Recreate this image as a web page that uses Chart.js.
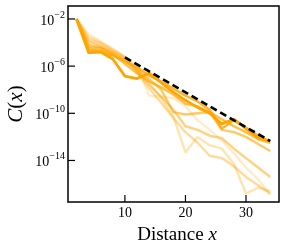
<!DOCTYPE html>
<html>
<head>
<meta charset="utf-8">
<script src="https://cdn.jsdelivr.net/npm/chart.js@4.4.1/dist/chart.umd.min.js"></script>
<style>
  html, body { margin: 0; padding: 0; background: #fff; }
  #wrap { width: 287px; height: 242px; position: relative; }
</style>
</head>
<body>
<div id="wrap"><canvas id="chart"></canvas></div>
<script>
// distance x (even sites)
const distances = [2, 4, 6, 8, 10, 12, 14, 16, 18, 20, 22, 24, 26, 28, 30, 32, 34];

// log10 C(x), darkest curve first
const logC1 = [-2, -4.85, -4.8, -5.4, -6.85, -7.05, -6.6, -7.4, -8.2, -8.9, -9.5, -10.0, -10.9, -10.5, -11.3, -12.1, -12.35];
const logC2 = [-2, -4.6, -4.7, -5.1, -5.6, -6.1, -6.8, -7.3, -7.9, -8.5, -9.0, -9.7, -11.3, -10.6, -11.2, -11.9, -12.4];
const logC3 = [-2, -4.4, -4.5, -5.0, -5.8, -6.6, -7.3, -7.8, -8.4, -9.2, -9.4, -9.9, -10.5, -11.1, -11.6, -12.2, -12.5];
const logC4 = [-2, -4.2, -4.4, -4.9, -5.5, -6.3, -7.1, -8.0, -9.9, -10.1, -10.0, -9.9, -11.4, -11.6, -12.0, -12.6, -13.2];
const logC5 = [-2, -3.9, -4.3, -4.8, -5.4, -6.4, -7.6, -8.6, -9.7, -11.1, -11.4, -11.9, -12.1, -13.0, -13.8, -14.6, -15.4];
const logC6 = [-2, -3.7, -4.1, -4.7, -5.3, -6.5, -7.9, -9.1, -10.4, -11.6, -12.5, -13.6, -13.8, -14.5, -15.4, -16.1, -16.8];
const logC7 = [-2, -3.5, -4.0, -4.6, -5.2, -6.2, -7.4, -8.7, -10.3, -13.3, -12.0, -12.7, -13.0, -14.3, -16.8, -16.3, -16.6];
const logC8 = [-2, -3.3, -3.9, -4.5, -5.2, -6.0, -8.5, -8.6, -8.7, -9.4, -10.6, -11.4, -12.3, -13.4, -14.6, -15.6, -16.9];
const curves = [logC1, logC2, logC3, logC4, logC5, logC6, logC7, logC8];
const alphas = [1.0, 0.85, 0.72, 0.6, 0.5, 0.4, 0.3, 0.22];

// dashed guide line
const fitX = [10, 34];
const fitLogC = [-5.25, -12.36];

const xTicks = [10, 20, 30];
const yTickExps = [-2, -6, -10, -14];

const toPoints = (xs, logs) => xs.map((x, i) => ({ x: x, y: Math.pow(10, logs[i]) }));

const datasets = [{
    data: toPoints(fitX, fitLogC),
    borderColor: '#000',
    borderWidth: 2.6,
    borderDash: [7, 4],
    pointRadius: 0,
    order: 0
}];
curves.forEach((c, i) => {
    datasets.push({
        data: toPoints(distances, c),
        borderColor: `rgba(255,165,0,${alphas[i]})`,
        borderWidth: i === 0 ? 2.8 : 2.4,
        borderJoinStyle: 'round',
        pointRadius: 0,
        tension: 0,
        order: i + 1
    });
});

const serif = '"Liberation Serif", "DejaVu Serif", serif';

// frame, inward ticks, labels
const axesPlugin = {
    id: 'axesFrame',
    afterDraw(chart) {
        const ctx = chart.ctx, a = chart.chartArea;
        const xs = chart.scales.x, ys = chart.scales.y;
        ctx.save();
        ctx.strokeStyle = '#000';
        ctx.fillStyle = '#000';
        ctx.lineWidth = 1.5;
        ctx.strokeRect(a.left, a.top, a.right - a.left, a.bottom - a.top);

        ctx.lineWidth = 1.2;
        ctx.font = `14px ${serif}`;
        ctx.textAlign = 'center';
        ctx.textBaseline = 'alphabetic';
        xTicks.forEach(v => {
            const px = xs.getPixelForValue(v);
            ctx.beginPath();
            ctx.moveTo(px, a.bottom);
            ctx.lineTo(px, a.bottom - 7);
            ctx.stroke();
            ctx.fillText(String(v), px, a.bottom + 15);
        });

        yTickExps.forEach(e => {
            const py = ys.getPixelForValue(Math.pow(10, e));
            ctx.beginPath();
            ctx.moveTo(a.left, py);
            ctx.lineTo(a.left + 7, py);
            ctx.stroke();
            const expText = '\u2212' + Math.abs(e);
            ctx.textAlign = 'right';
            ctx.font = `10px ${serif}`;
            const ew = ctx.measureText(expText).width;
            ctx.fillText(expText, a.left - 3, py - 1);
            ctx.font = `14px ${serif}`;
            ctx.fillText('10', a.left - 3 - ew, py + 6);
        });

        // x title: "Distance x"
        ctx.textAlign = 'left';
        ctx.font = `19px ${serif}`;
        const w1 = ctx.measureText('Distance ').width;
        ctx.font = `italic 19px ${serif}`;
        const w2 = ctx.measureText('x').width;
        let sx = 177 - (w1 + w2) / 2;
        ctx.font = `19px ${serif}`;
        ctx.fillText('Distance ', sx, 240);
        ctx.font = `italic 19px ${serif}`;
        ctx.fillText('x', sx + w1, 240);

        // y title: "C(x)"
        const parts = [['C', true], ['(', false], ['x', true], [')', false]];
        const fontOf = it => `${it ? 'italic ' : ''}21px ${serif}`;
        let total = 0;
        parts.forEach(p => { ctx.font = fontOf(p[1]); total += ctx.measureText(p[0]).width; });
        ctx.translate(22, (a.top + a.bottom) / 2);
        ctx.rotate(-Math.PI / 2);
        let tx = -total / 2;
        parts.forEach(p => {
            ctx.font = fontOf(p[1]);
            ctx.fillText(p[0], tx, 0);
            tx += ctx.measureText(p[0]).width;
        });
        ctx.restore();
    }
};

new Chart(document.getElementById('chart'), {
    type: 'line',
    data: { datasets: datasets },
    options: {
        responsive: true,
        maintainAspectRatio: false,
        animation: false,
        layout: { padding: { left: 68, right: 8, top: 6, bottom: 40 } },
        plugins: { legend: { display: false }, tooltip: { enabled: false } },
        scales: {
            x: { type: 'linear', min: 0.6, max: 35.45, display: false },
            y: { type: 'logarithmic', min: Math.pow(10, -17.5), max: Math.pow(10, -0.9), display: false }
        }
    },
    plugins: [axesPlugin]
});
</script>
</body>
</html>
